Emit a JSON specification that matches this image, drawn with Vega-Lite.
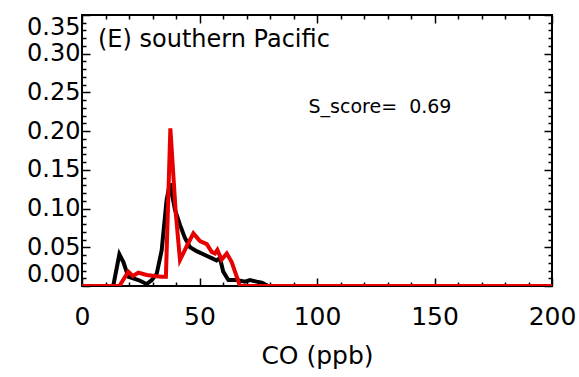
{
  "$schema": "https://vega.github.io/schema/vega-lite/v6.json",
  "width": 470,
  "height": 271,
  "autosize": "none",
  "padding": {"left": 82, "top": 15, "right": 27, "bottom": 91},
  "background": "white",
  "config": {
    "view": {"stroke": "black", "strokeWidth": 2},
    "font": "DejaVu Sans",
    "axis": {
      "domain": false,
      "grid": false,
      "tickColor": "black",
      "tickWidth": 1.5,
      "labelColor": "black",
      "labelFont": "DejaVu Sans",
      "labelOverlap": false,
      "titleFont": "DejaVu Sans",
      "titleColor": "black",
      "titleFontWeight": "normal"
    }
  },
  "datasets": {
    "black": [
      {"co": 0, "freq": 0}, {"co": 13.3, "freq": 0}, {"co": 15.9, "freq": 0.041},
      {"co": 17.6, "freq": 0.031}, {"co": 19.7, "freq": 0.012}, {"co": 24.0, "freq": 0.0077},
      {"co": 27.5, "freq": 0.0026}, {"co": 29.7, "freq": 0.0077}, {"co": 31.8, "freq": 0.016},
      {"co": 33.9, "freq": 0.046}, {"co": 36.0, "freq": 0.111}, {"co": 37.4, "freq": 0.1326},
      {"co": 39.6, "freq": 0.098}, {"co": 41.7, "freq": 0.079}, {"co": 43.8, "freq": 0.062},
      {"co": 46.0, "freq": 0.05}, {"co": 48.8, "freq": 0.045}, {"co": 51.6, "freq": 0.041},
      {"co": 55.2, "freq": 0.036}, {"co": 57.3, "freq": 0.033}, {"co": 58.7, "freq": 0.036},
      {"co": 60.1, "freq": 0.0185}, {"co": 62.3, "freq": 0.0077}, {"co": 65.8, "freq": 0.0077},
      {"co": 69.4, "freq": 0.0056}, {"co": 71.5, "freq": 0.0077}, {"co": 74.3, "freq": 0.0056},
      {"co": 76.5, "freq": 0.0043}, {"co": 79.3, "freq": 0}, {"co": 200, "freq": 0}
    ],
    "red": [
      {"co": 0, "freq": 0}, {"co": 15.9, "freq": 0}, {"co": 19.7, "freq": 0.0185},
      {"co": 21.6, "freq": 0.0129}, {"co": 24.0, "freq": 0.0172}, {"co": 27.5, "freq": 0.0142},
      {"co": 31.8, "freq": 0.0125}, {"co": 33.9, "freq": 0.012}, {"co": 35.7, "freq": 0.012},
      {"co": 37.6, "freq": 0.2037}, {"co": 39.9, "freq": 0.094}, {"co": 41.7, "freq": 0.0336},
      {"co": 44.5, "freq": 0.051}, {"co": 47.4, "freq": 0.068}, {"co": 50.2, "freq": 0.058},
      {"co": 53.1, "freq": 0.054}, {"co": 55.2, "freq": 0.044}, {"co": 56.6, "freq": 0.042},
      {"co": 57.6, "freq": 0.0465}, {"co": 59.4, "freq": 0.034}, {"co": 61.6, "freq": 0.042},
      {"co": 63.7, "freq": 0.031}, {"co": 67.2, "freq": 0}, {"co": 200, "freq": 0}
    ],
    "notes": [
      {"co": 6.8, "freq": 0.309, "text": "(E) southern Pacific", "kind": "region"},
      {"co": 96.4, "freq": 0.2235, "text": "S_score=\u00a0 0.69", "kind": "score"}
    ]
  },
  "resolve": {"axis": {"x": "independent", "y": "independent"}},
  "layer": [
    {
      "data": {"name": "black"},
      "mark": {"type": "line", "color": "black", "strokeWidth": 4, "clip": true},
      "encoding": {
        "x": {
          "field": "co", "type": "quantitative",
          "scale": {"domain": [0, 200], "nice": false, "zero": false},
          "axis": {
            "orient": "bottom", "values": [0, 50, 100, 150, 200], "tickSize": -8,
            "labelFontSize": 25, "labelPadding": 26, "labelFlush": false,
            "title": "CO (ppb)", "titleFontSize": 25, "titlePadding": 14
          }
        },
        "y": {
          "field": "freq", "type": "quantitative",
          "scale": {"domain": [0, 0.35], "nice": false, "zero": false},
          "axis": {
            "orient": "left", "values": [0, 0.05, 0.1, 0.15, 0.2, 0.25, 0.3, 0.35],
            "format": ".2f", "tickSize": -8, "labelFontSize": 24, "labelPadding": 10,
            "labelFlush": true, "title": null
          }
        }
      }
    },
    {
      "data": {"name": "red"},
      "mark": {"type": "line", "color": "#e60000", "strokeWidth": 4, "clip": true},
      "encoding": {
        "x": {
          "field": "co", "type": "quantitative",
          "axis": {
            "orient": "top", "values": [0, 50, 100, 150, 200], "tickSize": -8,
            "labels": false, "title": null
          }
        },
        "y": {
          "field": "freq", "type": "quantitative",
          "axis": {
            "orient": "right", "values": [0, 0.05, 0.1, 0.15, 0.2, 0.25, 0.3, 0.35],
            "tickSize": -8, "labels": false, "title": null
          }
        }
      }
    },
    {
      "data": {"name": "notes"},
      "transform": [{"filter": "datum.kind === 'region'"}],
      "mark": {"type": "text", "align": "left", "baseline": "alphabetic", "fontSize": 24, "font": "DejaVu Sans", "color": "black"},
      "encoding": {
        "x": {
          "field": "co", "type": "quantitative",
          "axis": {
            "orient": "bottom",
            "values": [10, 20, 30, 40, 60, 70, 80, 90, 110, 120, 130, 140, 160, 170, 180, 190],
            "tickSize": -4, "labels": false, "title": null
          }
        },
        "y": {
          "field": "freq", "type": "quantitative",
          "axis": {
            "orient": "left",
            "values": [0.01, 0.02, 0.03, 0.04, 0.06, 0.07, 0.08, 0.09, 0.11, 0.12, 0.13, 0.14, 0.16, 0.17, 0.18, 0.19, 0.21, 0.22, 0.23, 0.24, 0.26, 0.27, 0.28, 0.29, 0.31, 0.32, 0.33, 0.34],
            "tickSize": -4, "labels": false, "title": null
          }
        },
        "text": {"field": "text"}
      }
    },
    {
      "data": {"name": "notes"},
      "transform": [{"filter": "datum.kind === 'score'"}],
      "mark": {"type": "text", "align": "left", "baseline": "alphabetic", "fontSize": 19, "font": "DejaVu Sans", "color": "black"},
      "encoding": {
        "x": {
          "field": "co", "type": "quantitative",
          "axis": {
            "orient": "top",
            "values": [10, 20, 30, 40, 60, 70, 80, 90, 110, 120, 130, 140, 160, 170, 180, 190],
            "tickSize": -4, "labels": false, "title": null
          }
        },
        "y": {
          "field": "freq", "type": "quantitative",
          "axis": {
            "orient": "right",
            "values": [0.01, 0.02, 0.03, 0.04, 0.06, 0.07, 0.08, 0.09, 0.11, 0.12, 0.13, 0.14, 0.16, 0.17, 0.18, 0.19, 0.21, 0.22, 0.23, 0.24, 0.26, 0.27, 0.28, 0.29, 0.31, 0.32, 0.33, 0.34],
            "tickSize": -4, "labels": false, "title": null
          }
        },
        "text": {"field": "text"}
      }
    }
  ]
}
